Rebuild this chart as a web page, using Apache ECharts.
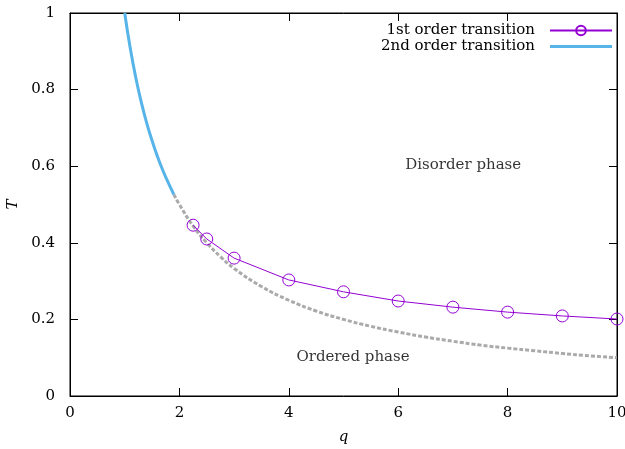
<!DOCTYPE html>
<html><head><meta charset="utf-8">
<script src="https://cdn.jsdelivr.net/npm/echarts@6/dist/echarts.min.js"></script>
<style>html,body{margin:0;padding:0;background:#fff}#c{width:625px;height:449px}</style>
</head><body><div id="c"></div>
<script>
const firstQ = [2.25, 2.5, 3, 4, 5, 6, 7, 8, 9, 10];
const firstT = [0.446, 0.410, 0.360, 0.303, 0.272, 0.248, 0.232, 0.219, 0.209, 0.201];
const secondQ = [1.0, 1.1, 1.2, 1.3, 1.4, 1.5, 1.6, 1.7, 1.8, 1.9];
const secondT = [1.0, 0.909, 0.833, 0.769, 0.714, 0.667, 0.625, 0.588, 0.556, 0.526];
const dashQ = [1.9, 2, 2.25, 2.5, 2.75, 3, 3.5, 4, 4.5, 5, 5.5, 6, 6.5, 7, 7.5, 8, 8.5, 9, 9.5, 10];
const dashT = [0.526, 0.5, 0.444, 0.4, 0.364, 0.333, 0.286, 0.25, 0.222, 0.2, 0.182, 0.167, 0.154, 0.143, 0.133, 0.125, 0.118, 0.111, 0.105, 0.1];
const xTicks = [0, 2, 4, 6, 8, 10];
const yTicks = [0, 0.2, 0.4, 0.6, 0.8, 1];
const seriesNames = ['1st order transition', '2nd order transition'];
const regionNames = ['Disorder phase', 'Ordered phase'];
const regionQ = [6.12, 4.13];
const regionT = [0.603, 0.102];

const FONT = 'DejaVu Serif';
const zip = (a, b) => a.map((v, i) => [v, b[i]]);
const chart = echarts.init(document.getElementById('c'));
const tick = () => ({show: true, inside: true, length: 8, lineStyle: {color: '#000', width: 1}});
const line = () => ({show: true, onZero: false, lineStyle: {color: '#000', width: 1}});
chart.setOption({
  animation: false,
  textStyle: {fontFamily: FONT},
  grid: {left: 70, right: 8, top: 13, bottom: 53, containLabel: false, outerBoundsMode: 'none',
    show: true, borderColor: '#000', borderWidth: 1},
  legend: {
    right: 12, top: 23, orient: 'vertical', align: 'right', padding: 0,
    itemWidth: 62, itemHeight: 12, itemGap: 1, symbolKeepAspect: true,
    data: [
      {name: seriesNames[0]},
      {name: seriesNames[1], icon: 'path://M0,0H62V3H0Z'}
    ],
    textStyle: {fontFamily: FONT, fontSize: 15, color: '#000', lineHeight: 12, padding: [0, 10, 0, 0]}
  },
  xAxis: [{
    type: 'value', min: 0, max: 10, interval: 2,
    name: 'q', nameLocation: 'middle', nameGap: 34,
    nameTextStyle: {fontFamily: FONT, fontStyle: 'italic', fontSize: 15, color: '#000'},
    axisLine: line(), axisTick: tick(), splitLine: {show: false},
    axisLabel: {color: '#000', fontFamily: FONT, fontSize: 15, margin: 10, formatter: v => xTicks.includes(v) ? String(v) : ''}
  }, {
    type: 'value', min: 0, max: 10, interval: 2, position: 'top',
    axisLine: line(), axisTick: tick(), axisLabel: {show: false}, splitLine: {show: false}
  }],
  yAxis: [{
    type: 'value', min: 0, max: 1, interval: 0.2,
    name: 'T', nameLocation: 'middle', nameGap: 49, nameRotate: 90,
    nameTextStyle: {fontFamily: FONT, fontStyle: 'italic', fontSize: 15, color: '#000'},
    axisLine: line(), axisTick: tick(), splitLine: {show: false},
    axisLabel: {color: '#000', fontFamily: FONT, fontSize: 15, margin: 15,
      formatter: v => { const t = yTicks.find(y => Math.abs(y - v) < 1e-9); return t === undefined ? '' : String(t); }}
  }, {
    type: 'value', min: 0, max: 1, interval: 0.2, position: 'right',
    axisLine: line(), axisTick: tick(), axisLabel: {show: false}, splitLine: {show: false}
  }],
  series: [
    {
      name: 'dashed', type: 'line', data: zip(dashQ, dashT), smooth: true, showSymbol: false, symbol: 'none',
      lineStyle: {color: '#aaaaaa', width: 3, type: [4, 2]}, z: 1, silent: true
    },
    {
      name: seriesNames[1], type: 'line', data: zip(secondQ, secondT), smooth: true, showSymbol: false,
      symbol: 'none', itemStyle: {color: '#56b4e9'},
      lineStyle: {color: '#56b4e9', width: 3}, z: 2
    },
    {
      name: seriesNames[0], type: 'line', data: zip(firstQ, firstT),
      symbol: 'circle', symbolSize: 12, showAllSymbol: true,
      itemStyle: {color: 'rgba(0,0,0,0)', borderColor: '#9400d3', borderWidth: 1},
      lineStyle: {color: '#9400d3', width: 1},
      z: 3
    },
    {
      name: 'regions', type: 'scatter', data: regionNames.map((n, i) => ({name: n, value: [regionQ[i], regionT[i]]})),
      symbol: 'circle', symbolSize: 1, itemStyle: {color: 'rgba(0,0,0,0)'}, silent: true,
      label: {show: true, position: 'right', distance: 0, formatter: p => p.name,
        fontFamily: FONT, fontSize: 15, color: '#000'}
    },
    {
      name: 'frame', type: 'line', xAxisIndex: 1, yAxisIndex: 1, data: [], silent: true
    }
  ]
});
</script></body></html>
